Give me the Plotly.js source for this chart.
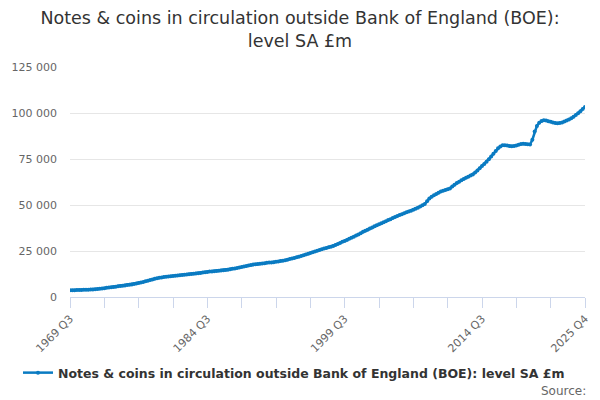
<!DOCTYPE html>
<html>
<head>
<meta charset="utf-8">
<script src="https://cdn.plot.ly/plotly-3.0.1.min.js"></script>
<style>html,body{margin:0;padding:0;background:#fff;}#chart{width:600px;height:400px;}</style>
</head>
<body>
<div id="chart"></div>
<script>
// Quarterly series, 1969 Q3 .. 2025 Q4 (226 quarters), £m
var startYear = 1969, startQuarter = 3;
var values = [
  3650,3690,3730,3770,3800,3840,3880,3920,3970,4030,4100,4200,4320,4450,4620,4820,
  4980,5150,5300,5450,5600,5780,5950,6100,6300,6480,6650,6850,7050,7300,7550,
  7850,8150,8500,8850,9200,9550,9900,
  10200,10450,10650,10850,11000,11150,11300,11450,
  11600,11700,11850,11950,12100,12200,12350,
  12500,12650,12800,12950,13100,13250,13450,13650,
  13800,13900,14000,14150,14250,14400,14500,14650,14850,
  15050,15300,15550,15800,16100,16350,16600,16850,17150,
  17400,17600,17800,17950,18100,18250,18400,18550,18700,
  18800,18950,19100,19300,19500,19750,20000,
  20300,20600,20900,21200,21550,21900,22250,
  22650,23050,23450,23850,24300,24750,
  25200,25600,25950,26300,26650,27000,27350,27700,
  28200,28800,29400,30000,30500,31000,
  31600,32200,32800,33400,34000,34700,35400,
  36000,36600,37200,37800,38400,39000,39600,40100,
  40600,41200,41800,42300,42900,43500,44000,
  44500,45000,45500,46000,46500,46900,47400,
  47900,48500,49200,49900,50500,52000,53600,
  54500,55300,56000,56700,57300,
  57800,58200,58600,59000,
  60000,61000,62000,
  62700,63400,64100,64800,65400,66000,66600,
  67600,68800,70000,
  71200,72300,73500,74800,
  76300,77900,79300,
  80800,81800,82500,
  82500,82300,82000,81900,82100,
  82400,82800,83100,83300,
  83200,83000,82900,
  85500,90000,93000,94700,95600,96000,95900,
  95500,95200,94800,94600,94400,94500,
  94900,95400,95900,96400,
  97100,97900,98900,99900,101000,102200,103300
];
var labeledTicks = ["1969 Q3","1984 Q3","1999 Q3","2014 Q3","2025 Q4"];
var yTickVals = [0,25000,50000,75000,100000,125000];
var yTickText = ["0","25 000","50 000","75 000","100 000","125 000"];
var seriesName = "Notes & coins in circulation outside Bank of England (BOE): level SA £m";
var chartTitle = "Notes & coins in circulation outside Bank of England (BOE):<br>level SA £m";

var quarters = [];
var y = startYear, q = startQuarter;
for (var i = 0; i < values.length; i++) {
  quarters.push(y + " Q" + q);
  q++; if (q > 4) { q = 1; y++; }
}
var tickvals = [], ticktext = [];
for (var j = 0; j < quarters.length; j += 15) {
  tickvals.push(quarters[j]);
  ticktext.push(labeledTicks.indexOf(quarters[j]) >= 0 ? quarters[j] : "");
}

var blue = "#0a7bc2";
var font = "DejaVu Sans, Verdana, sans-serif";

Plotly.newPlot("chart", [{
  x: quarters, y: values, type: "scatter", mode: "lines+markers",
  name: seriesName,
  line: {color: blue, width: 2.5},
  marker: {color: blue, size: 4},
  hoverinfo: "skip"
}], {
  width: 600, height: 400,
  paper_bgcolor: "#fff", plot_bgcolor: "#fff",
  margin: {l: 70, r: 15, t: 67, b: 103},
  title: {text: chartTitle, font: {family: font, size: 17.5, color: "#333333"},
          x: 0.5, xanchor: "center", y: 0.94, yanchor: "top"},
  xaxis: {
    type: "category", range: [0, values.length - 1],
    tickmode: "array", tickvals: tickvals, ticktext: ticktext,
    tickangle: -45, ticks: "outside", ticklen: 10, tickcolor: "#ccd6eb", tickwidth: 1,
    showline: true, linecolor: "#ccd6eb", linewidth: 1,
    showgrid: false, zeroline: false,
    tickfont: {family: font, size: 11, color: "#666666"}
  },
  yaxis: {
    range: [0, 125000], tickmode: "array", tickvals: yTickVals, ticktext: yTickText,
    showgrid: true, gridcolor: "#e6e6e6", gridwidth: 1, zeroline: false,
    showline: false, ticks: "", ticklabelstandoff: 12,
    tickfont: {family: font, size: 11, color: "#666666"}
  },
  showlegend: true,
  legend: {orientation: "h", xref: "container", yref: "container",
           x: 0.49, xanchor: "center", y: 0.0675, yanchor: "middle",
           font: {family: font, size: 12.5, color: "#333333", weight: "bold"},
           itemwidth: 30},
  annotations: [{
    text: "Source:", xref: "paper", yref: "paper", x: 1.006, xanchor: "right",
    y: -0.41, yanchor: "middle", showarrow: false,
    font: {family: font, size: 12, color: "#666666"}
  }]
}, {displayModeBar: false, staticPlot: true});
</script>
</body>
</html>
